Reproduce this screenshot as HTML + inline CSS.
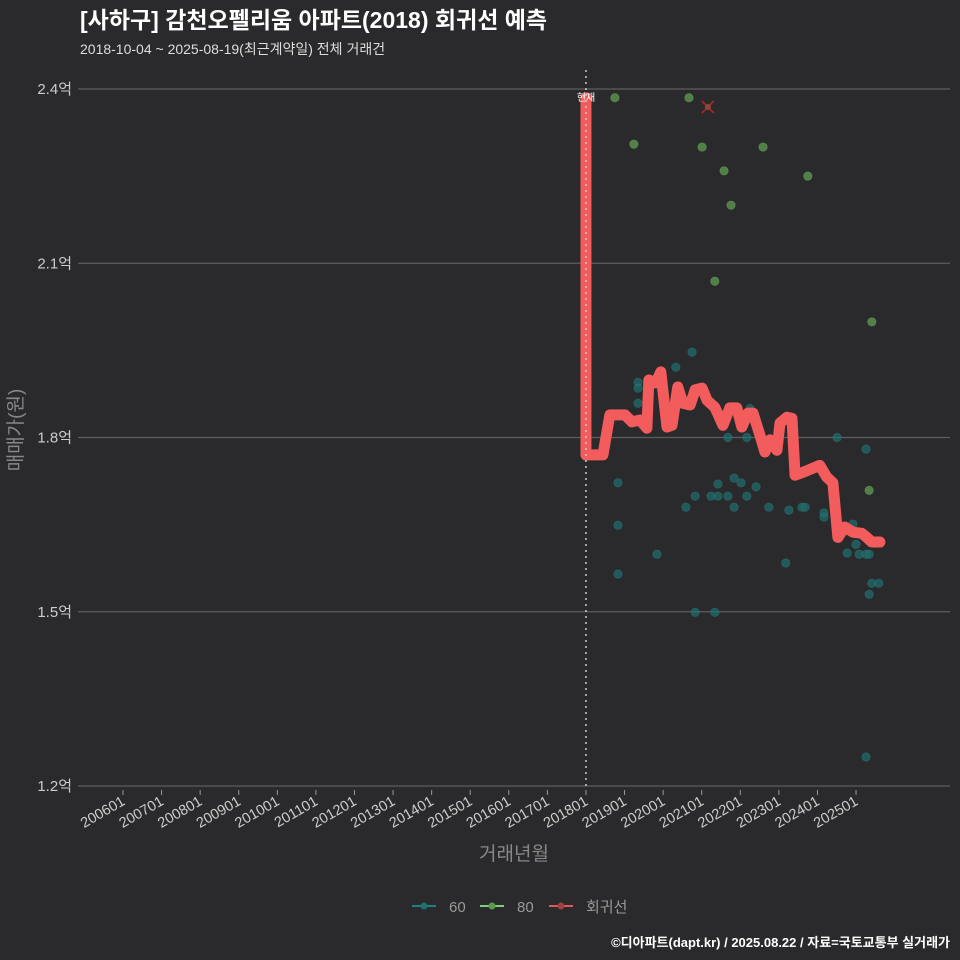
<!DOCTYPE html>
<html><head><meta charset="utf-8"><style>
html,body{margin:0;background:#2a2a2c;overflow:hidden;width:960px;height:960px;}
svg{display:block;}
svg text{font-family:"Liberation Sans","Noto Sans CJK KR",sans-serif;}
</style></head><body>
<svg width="960" height="960" viewBox="0 0 960 960" xmlns="http://www.w3.org/2000/svg">
<rect width="960" height="960" fill="#2a2a2c"/>
<text x="80" y="28" fill="#fff" font-size="23" font-weight="bold">[사하구] 감천오펠리움 아파트(2018) 회귀선 예측</text>
<text x="80" y="54" fill="#ddd" font-size="14">2018-10-04 ~ 2025-08-19(최근계약일) 전체 거래건</text>
<g id="axes"></g>
<g id="marks"></g>
<text transform="translate(22,430) rotate(-90)" text-anchor="middle" fill="#888" font-size="19">매매가(원)</text>
<text x="514" y="860" text-anchor="middle" fill="#888" font-size="19">거래년월</text>
<g>
<line x1="412" y1="906" x2="436" y2="906" stroke="#1f8080" stroke-width="2"/><circle cx="424" cy="906" r="3.5" fill="#1f6e6e"/>
<text x="449" y="912" fill="#999" font-size="15">60</text>
<line x1="480" y1="906" x2="504" y2="906" stroke="#7ed07e" stroke-width="2"/><circle cx="492" cy="906" r="3.5" fill="#5a9a4a"/>
<text x="517" y="912" fill="#999" font-size="15">80</text>
<line x1="549" y1="906" x2="573" y2="906" stroke="#e05a5a" stroke-width="2"/><circle cx="561" cy="906" r="3.5" fill="#a04040"/>
<text x="586" y="912" fill="#999" font-size="15">회귀선</text>
</g>
<text x="950" y="947" text-anchor="end" fill="#fff" font-size="13" font-weight="bold">©디아파트(dapt.kr) / 2025.08.22 / 자료=국토교통부 실거래가</text>
</svg>
<script>
const yTicks=[1.2,1.5,1.8,2.1,2.4];
const yTickLabels=["1.2억","1.5억","1.8억","2.1억","2.4억"];
const xTickYears=[2006,2007,2008,2009,2010,2011,2012,2013,2014,2015,2016,2017,2018,2019,2020,2021,2022,2023,2024,2025];
const xTickLabels=["200601","200701","200801","200901","201001","201101","201201","201301","201401","201501","201601","201701","201801","201901","202001","202101","202201","202301","202401","202501"];
const s60T=[2020.75,2020.33,2019.35,2019.35,2019.35,2018.83,2018.83,2018.83,2019.84,2020.83,2021.34,2020.59,2020.83,2021.24,2021.42,2021.68,2021.42,2021.84,2022.02,2021.84,2022.17,2022.41,2021.68,2022.17,2022.25,2022.74,2023.26,2023.18,2023.60,2023.68,2024.17,2024.17,2024.51,2025.26,2024.92,2025.0,2024.77,2025.08,2025.26,2025.34,2025.41,2025.59,2025.34,2025.26];
const s60V=[1.947,1.921,1.895,1.885,1.859,1.722,1.649,1.565,1.599,1.499,1.499,1.68,1.699,1.699,1.699,1.699,1.72,1.73,1.722,1.68,1.699,1.715,1.80,1.80,1.85,1.68,1.675,1.584,1.68,1.68,1.67,1.663,1.80,1.78,1.651,1.616,1.601,1.599,1.599,1.599,1.549,1.549,1.53,1.25];
const s80T=[2018.75,2020.67,2019.24,2021.01,2022.59,2021.58,2023.75,2021.76,2021.34,2025.41,2025.34];
const s80V=[2.385,2.385,2.305,2.30,2.30,2.259,2.25,2.20,2.069,1.999,1.709];
const regT=[2018.0,2018.0,2018.44,2018.62,2019.01,2019.19,2019.4,2019.58,2019.63,2019.81,2019.94,2020.10,2020.23,2020.38,2020.51,2020.70,2020.83,2021.01,2021.14,2021.34,2021.55,2021.73,2021.91,2022.04,2022.2,2022.33,2022.51,2022.64,2022.77,2022.95,2023.03,2023.21,2023.34,2023.42,2023.62,2023.88,2024.06,2024.24,2024.40,2024.53,2024.71,2024.92,2025.15,2025.28,2025.41,2025.62];
const regV=[2.385,1.77,1.77,1.839,1.839,1.827,1.83,1.816,1.899,1.894,1.913,1.818,1.821,1.887,1.859,1.856,1.882,1.885,1.864,1.852,1.821,1.851,1.851,1.818,1.842,1.842,1.804,1.775,1.796,1.778,1.825,1.835,1.833,1.735,1.740,1.747,1.752,1.732,1.722,1.628,1.646,1.637,1.635,1.628,1.62,1.62];
const maxT=[2021.16], maxV=[2.369];
const NS="http://www.w3.org/2000/svg";
const X=t=>123+(t-2006)*38.58;
const Y=v=>786-(v-1.2)/1.2*697;
function mk(tag,attrs,parent){const e=document.createElementNS(NS,tag);for(const k in attrs)e.setAttribute(k,attrs[k]);parent.appendChild(e);return e;}
const ax=document.getElementById('axes'), mg=document.getElementById('marks');
yTicks.forEach((v,i)=>{
 const g=mk('line',{x1:78,x2:950,y1:Y(v),y2:Y(v),stroke:'#5e5e5e','stroke-width':1.2},ax);
 
 
 const t=mk('text',{x:72,y:Y(v)+5,'text-anchor':'end',fill:'#ccc','font-size':15},ax);
 t.textContent=yTickLabels[i];
 
 
});
xTickYears.forEach((yr,i)=>{
 const x=X(yr);
 mk('line',{x1:x,x2:x,y1:790,y2:795,stroke:'#999'},ax);
 const t=mk('text',{transform:`translate(${x+3},${804}) rotate(-30)`,'text-anchor':'end',fill:'#ccc','font-size':14.5},ax);
 t.textContent=xTickLabels[i];
 
 
});
s80T.forEach((t,i)=>{const c=mk('circle',{cx:X(t),cy:Y(s80V[i]),r:4.2,fill:'#5f9c50','fill-opacity':0.75,stroke:'#6fae60','stroke-opacity':0.5,'stroke-width':0.8},mg);
 
 });
s60T.forEach((t,i)=>{const c=mk('circle',{cx:X(t),cy:Y(s60V[i]),r:4.2,fill:'#1f6e6e','fill-opacity':0.7,stroke:'#2a8080','stroke-opacity':0.5,'stroke-width':0.8},mg);
 
 });
const pts=regT.map((t,i)=>X(t)+','+Y(regV[i])).join(' ');
const pl=mk('polyline',{points:pts,fill:'none',stroke:'#f25c5c','stroke-width':11,'stroke-linejoin':'round','stroke-linecap':'round'},mg);


const vl=mk('line',{x1:X(2018),x2:X(2018),y1:70,y2:786,stroke:'#ccc','stroke-width':1.5,'stroke-dasharray':'2,4'},mg);


const lb=mk('text',{x:X(2018),y:101,'text-anchor':'middle',fill:'#fff','font-size':10},mg);
lb.textContent='현재';


maxT.forEach((t,i)=>{const x=X(t),y=Y(maxV[i]);
 const g=mk('path',{d:`M${x-6},${y-6}L${x+6},${y+6}M${x+6},${y-6}L${x-6},${y+6}`,stroke:'#c82020','stroke-width':1.5},mg);
 
 
 mk('circle',{cx:x,cy:y,r:3,fill:'#8a4a3a'},mg);});
</script>
</body></html>
